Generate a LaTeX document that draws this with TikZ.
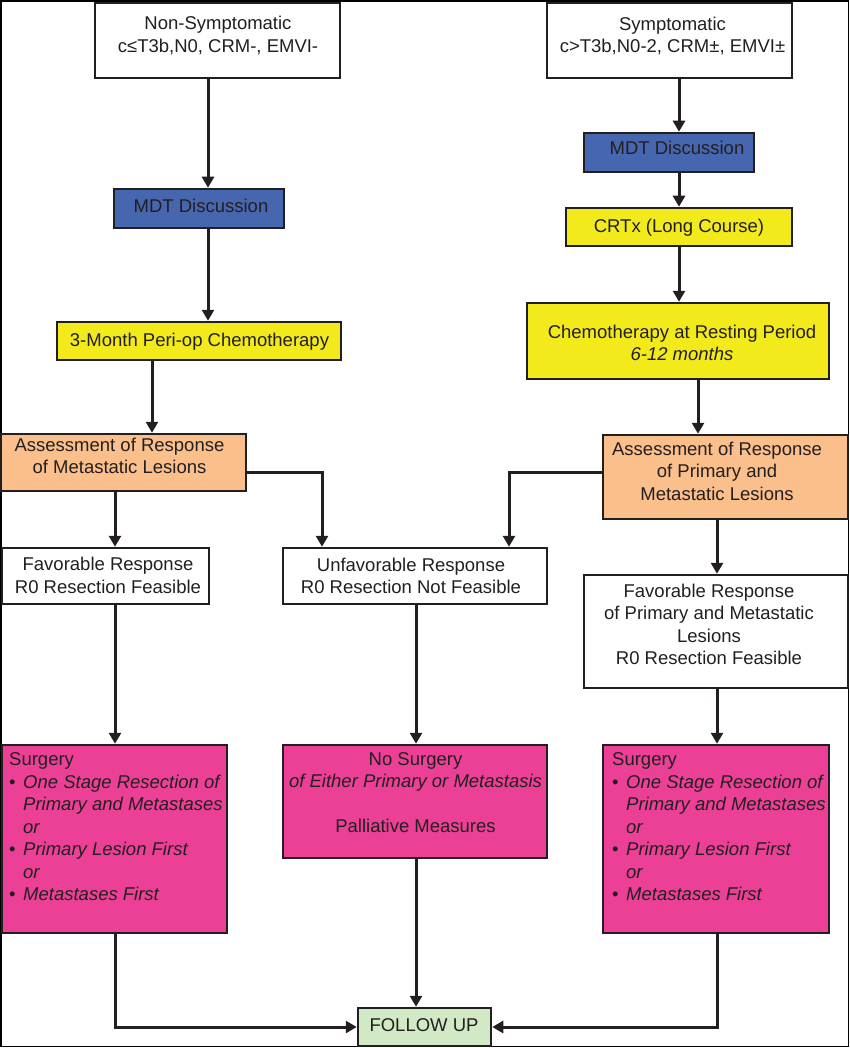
\documentclass[tikz,border=0pt]{standalone}
\usepackage{fontspec}
\setmainfont{Liberation Sans}
\usetikzlibrary{arrows.meta}
\definecolor{linec}{HTML}{231F20}
\definecolor{mdtblue}{HTML}{4766B0}
\definecolor{boxyellow}{HTML}{F2EA1B}
\definecolor{boxorange}{HTML}{FBBF8B}
\definecolor{boxpink}{HTML}{EC4097}
\definecolor{boxgreen}{HTML}{D1E9C5}
\newcommand{\lnstrut}{\rule[-4.65pt]{0pt}{22.5pt}}
\newcommand{\bul}{\makebox[14pt][l]{•}}
\newcommand{\ind}{\hspace*{14pt}}
\begin{document}
\begin{tikzpicture}[x=1pt,y=-1pt,
  box/.style={draw=linec,line width=2.5pt,inner sep=0pt},
  txt/.style={inner sep=0pt,align=center,font=\fontsize{18.5}{22.5}\selectfont,text=linec},
  arr/.style={draw=linec,line width=3pt,-{Triangle[width=12pt,length=11pt]}}]
\useasboundingbox (0,0) rectangle (850,1048);
\coordinate (fa) at (1,1);
\coordinate (fb) at (848.5,1046.3);
\draw[line width=1.5pt,black] (fa) rectangle (fb);

% boxes
\node[box,fill=white,minimum width=245pt,minimum height=75pt] (b1) at (217.5,40.5) {};
\node[box,fill=white,minimum width=245pt,minimum height=75pt] (b2) at (669.5,40.5) {};
\node[box,fill=mdtblue,minimum width=170pt,minimum height=39pt] (mdt1) at (199,208.5) {};
\node[box,fill=mdtblue,minimum width=170pt,minimum height=39pt] (mdt2) at (669,152.5) {};
\node[box,fill=boxyellow,minimum width=226pt,minimum height=38pt] (crtx) at (679,227) {};
\node[box,fill=boxyellow,minimum width=284pt,minimum height=38pt] (ch1) at (199,341) {};
\node[box,fill=boxyellow,minimum width=302pt,minimum height=76pt] (ch2) at (678,341) {};
\node[box,fill=boxorange,minimum width=245pt,minimum height=57pt] (as1) at (123.5,462.5) {};
\node[box,fill=boxorange,minimum width=245pt,minimum height=84pt] (as2) at (725.5,477) {};
\node[box,fill=white,minimum width=207pt,minimum height=56pt] (fav1) at (105.5,576) {};
\node[box,fill=white,minimum width=264pt,minimum height=56pt] (unf) at (415,576) {};
\node[box,fill=white,minimum width=264pt,minimum height=113pt] (fav2) at (716,631.5) {};
\node[box,fill=boxpink,minimum width=225pt,minimum height=188pt] (sg1) at (114.5,839) {};
\node[box,fill=boxpink,minimum width=264pt,minimum height=113pt] (nos) at (415,801.5) {};
\node[box,fill=boxpink,minimum width=226pt,minimum height=188pt] (sg2) at (716,839) {};
\node[box,fill=boxgreen,minimum width=133pt,minimum height=38pt] (fu) at (424.5,1027) {};

% texts
\node[txt] (t1) at (218,34.5) {\lnstrut Non-Symptomatic\\\lnstrut c≤T3b,N0, CRM-, EMVI-};
\node[txt] (t2) at (672.5,35) {\lnstrut Symptomatic\\\lnstrut c>T3b,N0-2, CRM±, EMVI±};
\node[txt] (tmdt1) at (201,206) {\lnstrut MDT Discussion};
\node[txt] (tmdt2) at (677,147.5) {\lnstrut MDT Discussion};
\node[txt] (tcrtx) at (679,226) {\lnstrut CRTx (Long Course)};
\node[txt] (tch1) at (199.5,340) {\lnstrut 3-Month Peri-op Chemotherapy};
\node[txt] (tch2) at (682,343) {\lnstrut Chemotherapy at Resting Period\\\lnstrut\textit{6-12 months}};
\node[txt] (tas1) at (119.5,456) {\lnstrut Assessment of Response\\\lnstrut of Metastatic Lesions};
\node[txt] (tfav1) at (108,575.5) {\lnstrut Favorable Response\\\lnstrut R0 Resection Feasible};
\node[txt] (tunf) at (411,576) {\lnstrut Unfavorable Response\\\lnstrut R0 Resection Not Feasible};
\node[txt] (tas2) at (717,471) {\lnstrut Assessment of Response\\\lnstrut of Primary and\\\lnstrut Metastatic Lesions};
\node[txt] (tfav2) at (709,624.5) {\lnstrut Favorable Response\\\lnstrut of Primary and Metastatic\\\lnstrut Lesions\\\lnstrut R0 Resection Feasible};
\node[txt] (tnos) at (415.5,792.4) {\lnstrut No Surgery\\\lnstrut\textit{of Either Primary or Metastasis}\\\lnstrut\\\lnstrut Palliative Measures};
\node[txt] (tfu) at (424,1025) {\lnstrut FOLLOW UP};
\node[txt,align=left,anchor=north west] (tsg1) at (9,747.75) {\lnstrut Surgery\\
\lnstrut\bul\textit{One Stage Resection of}\\
\lnstrut\ind\textit{Primary and Metastases}\\
\lnstrut\ind\textit{or}\\
\lnstrut\bul\textit{Primary Lesion First}\\
\lnstrut\ind\textit{or}\\
\lnstrut\bul\textit{Metastases First}};
\node[txt,align=left,anchor=north west] (tsg2) at (612,747.75) {\lnstrut Surgery\\
\lnstrut\bul\textit{One Stage Resection of}\\
\lnstrut\ind\textit{Primary and Metastases}\\
\lnstrut\ind\textit{or}\\
\lnstrut\bul\textit{Primary Lesion First}\\
\lnstrut\ind\textit{or}\\
\lnstrut\bul\textit{Metastases First}};

% connector guide coordinates
\coordinate (xA) at (208,0);
\coordinate (xB) at (152,0);
\coordinate (xC) at (679,0);
\coordinate (xH) at (698,0);
\coordinate (xF) at (115,0);
\coordinate (xD) at (322,0);
\coordinate (xE) at (509,0);
\coordinate (xG) at (717,0);
\coordinate (xM) at (416,0);
\coordinate (yA) at (0,472);

% connectors
\draw[arr] (b1.south -| xA) -- (mdt1.north -| xA);
\draw[arr] (mdt1.south -| xA) -- (ch1.north -| xA);
\draw[arr] (ch1.south -| xB) -- (as1.north -| xB);
\draw[arr] (b2.south -| xC) -- (mdt2.north -| xC);
\draw[arr] (mdt2.south -| xC) -- (crtx.north -| xC);
\draw[arr] (crtx.south -| xC) -- (ch2.north -| xC);
\draw[arr] (ch2.south -| xH) -- (as2.north -| xH);
\draw[arr] (as1.south -| xF) -- (fav1.north -| xF);
\draw[arr] (as1.east |- yA) -| (unf.north -| xD);
\draw[arr] (as2.west |- yA) -| (unf.north -| xE);
\draw[arr] (as2.south -| xG) -- (fav2.north -| xG);
\draw[arr] (fav1.south -| xF) -- (sg1.north -| xF);
\draw[arr] (unf.south -| xM) -- (nos.north -| xM);
\draw[arr] (fav2.south -| xG) -- (sg2.north -| xG);
\draw[arr] (nos.south -| xM) -- (fu.north -| xM);
\draw[arr] (sg1.south -| xF) |- (fu.west);
\draw[arr] (sg2.south -| xG) |- (fu.east);
\end{tikzpicture}
\end{document}
